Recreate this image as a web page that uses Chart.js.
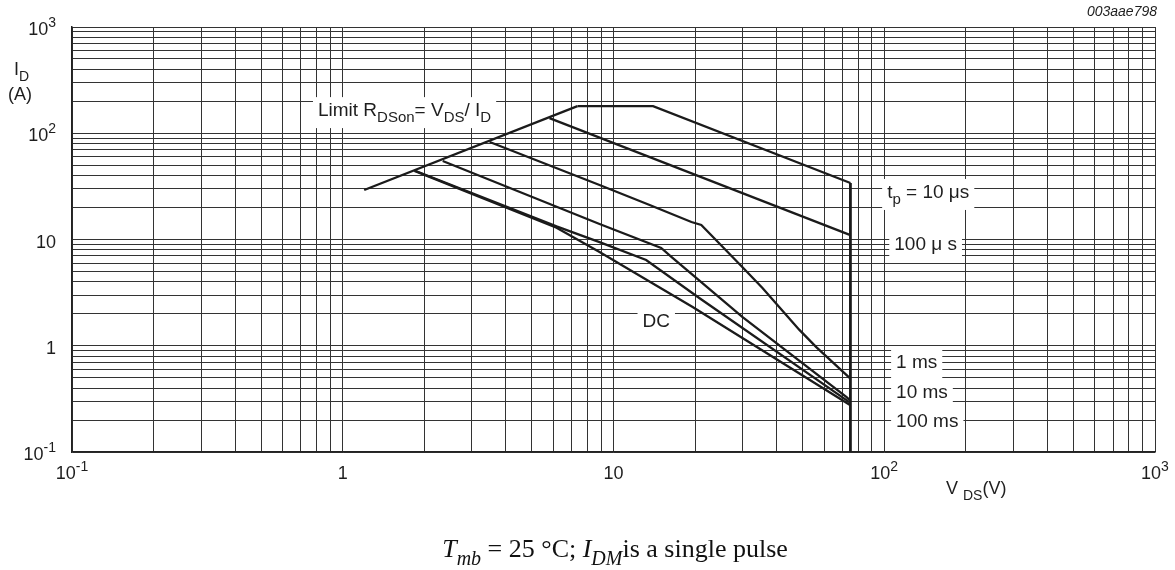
<!DOCTYPE html>
<html>
<head>
<meta charset="utf-8">
<script src="https://cdn.jsdelivr.net/npm/chart.js@4.4.1/dist/chart.umd.min.js"></script>
<style>
  html, body { margin: 0; padding: 0; background: #fff; }
  canvas { display: block; }
</style>
</head>
<body>
<canvas id="soaChart" width="1175" height="570"></canvas>
<script>
// safe operating area: V_DS (V) against I_D (A), log-log
const limitV = [1.2, 7.36];
const limitI = [29.2, 180];

const tp10usV = [7.36, 14.0, 75];
const tp10usI = [180, 180, 34];

const tp100usV = [5.8, 75];
const tp100usI = [139, 11.0];

const tp1msV = [3.49, 8.88, 13.6, 19.4, 21.1, 29.9, 35.5, 48.6, 56.1, 75];
const tp1msI = [82.7, 32.6, 21.1, 14.6, 13.7, 5.51, 3.50, 1.41, 0.97, 0.49];

const tp10msV = [2.34, 8.88, 15.0, 16.4, 29.9, 72.4, 75];
const tp10msI = [54.8, 14.0, 8.32, 6.84, 1.87, 0.33, 0.305];

const tp100msV = [1.84, 6.16, 8.88, 13.2, 20.8, 75];
const tp100msI = [44.6, 13.3, 9.46, 6.42, 2.80, 0.29];

const dcV = [1.84, 6.16, 8.88, 19.6, 75];
const dcI = [44.3, 12.9, 7.62, 2.32, 0.275];

// V_DS(max) edge
const vmaxV = [75, 75];
const vmaxI = [34, 0.1];

// decade ticks and their labels: [mantissa, exponent]
const decades = [0.1, 1, 10, 100, 1000];
const decadeLabels = [['10', '-1'], ['1', ''], ['10', ''], ['10', '2'], ['10', '3']];

// every 1..9 x 10^n line for the grid
const gridValues = [];
decades.slice(0, -1).forEach(d => {
  for (let k = 1; k <= 9; k++) gridValues.push(k * d);
});
gridValues.push(1000);

const SANS = '"Liberation Sans", Arial, sans-serif';
const SERIF = '"Liberation Serif", "Times New Roman", serif';

// curve annotations, anchored at left/baseline in data units
const notes = [
  { v: 0.81, i: 145, runs: [['Limit R'], ['DSon', 'sub'], ['= V'], ['DS', 'sub'], ['/ I'], ['D', 'sub']] },
  { v: 102.5, i: 24.6, runs: [['t'], ['p', 'sub'], [' = 10 \u03bcs']] },
  { v: 108.9, i: 7.96, runs: [['100 \u03bc s']] },
  { v: 12.8, i: 1.50, runs: [['DC']] },
  { v: 110.6, i: 0.618, runs: [['1 ms']] },
  { v: 110.6, i: 0.322, runs: [['10 ms']] },
  { v: 110.6, i: 0.172, runs: [['100 ms']] }
];

function pairs(xs, ys) {
  return xs.map((x, n) => ({ x: x, y: ys[n] }));
}

function runFont(kind, style, size, family) {
  const s = kind ? Math.round(size * 0.78) : size;
  return (style || '') + ' ' + s + 'px ' + family;
}

function runsWidth(ctx, runs, size, family) {
  let w = 0;
  runs.forEach(r => {
    ctx.font = runFont(r[1], r[2], size, family);
    w += ctx.measureText(r[0]).width;
  });
  return w;
}

// draws text pieces with sub/superscripts; x is the left edge unless align given
function drawRuns(ctx, x, y, runs, size, family, align) {
  const w = runsWidth(ctx, runs, size, family);
  if (align === 'center') x -= w / 2;
  if (align === 'right') x -= w;
  ctx.textBaseline = 'alphabetic';
  ctx.textAlign = 'left';
  runs.forEach(r => {
    ctx.font = runFont(r[1], r[2], size, family);
    let dy = 0;
    if (r[1] === 'sub') dy = size * 0.32;
    if (r[1] === 'sup') dy = -size * 0.45;
    ctx.fillText(r[0], x, y + dy);
    x += ctx.measureText(r[0]).width;
  });
  return w;
}

const soaText = {
  id: 'soaText',
  afterDraw(chart) {
    const ctx = chart.ctx;
    const xs = chart.scales.x;
    const ys = chart.scales.y;
    const area = chart.chartArea;
    ctx.save();
    ctx.fillStyle = '#1e1e1e';

    // tick labels
    decades.forEach((d, n) => {
      const lab = decadeLabels[n];
      const runs = [[lab[0]]];
      if (lab[1]) runs.push([lab[1], 'sup']);
      drawRuns(ctx, xs.getPixelForValue(d), area.bottom + 27, runs, 18, SANS, 'center');
      drawRuns(ctx, area.left - 16, ys.getPixelForValue(d) + 8, runs, 18, SANS, 'right');
    });

    // axis titles
    drawRuns(ctx, 14, 75, [['I'], ['D', 'sub']], 18, SANS);
    drawRuns(ctx, 8, 100, [['(A)']], 18, SANS);
    drawRuns(ctx, 946, 494, [['V '], ['DS', 'sub'], ['(V)']], 18, SANS);

    // figure code
    ctx.font = 'italic 14px ' + SANS;
    ctx.textAlign = 'right';
    ctx.textBaseline = 'alphabetic';
    ctx.fillText('003aae798', area.right + 2, 16);

    // curve labels on white boxes
    notes.forEach(nt => {
      const px = xs.getPixelForValue(nt.v);
      const py = ys.getPixelForValue(nt.i);
      const w = runsWidth(ctx, nt.runs, 19, SANS);
      ctx.fillStyle = '#fff';
      ctx.fillRect(px - 5, py - 19, w + 10, 31);
      ctx.fillStyle = '#1e1e1e';
      drawRuns(ctx, px, py, nt.runs, 19, SANS);
    });

    // caption
    ctx.fillStyle = '#111';
    drawRuns(ctx, 615, 557, [
      ['T', '', 'italic'], ['mb', 'sub', 'italic'], [' = 25 \u00b0C; '],
      ['I', '', 'italic'], ['DM', 'sub', 'italic'], ['is a single pulse']
    ], 26, SERIF, 'center');
    ctx.restore();
  }
};

const lineStyle = {
  showLine: true,
  pointRadius: 0,
  borderColor: '#1b1b1b',
  borderWidth: 2.3,
  tension: 0,
  fill: false
};

const config = {
  type: 'scatter',
  data: {
    datasets: [
      Object.assign({ label: 'Limit RDSon', data: pairs(limitV, limitI) }, lineStyle),
      Object.assign({ label: 'tp = 10 us', data: pairs(tp10usV, tp10usI) }, lineStyle),
      Object.assign({ label: '100 us', data: pairs(tp100usV, tp100usI) }, lineStyle),
      Object.assign({ label: '1 ms', data: pairs(tp1msV, tp1msI) }, lineStyle),
      Object.assign({ label: '10 ms', data: pairs(tp10msV, tp10msI) }, lineStyle),
      Object.assign({ label: '100 ms', data: pairs(tp100msV, tp100msI) }, lineStyle),
      Object.assign({ label: 'DC', data: pairs(dcV, dcI) }, lineStyle),
      Object.assign({ label: 'VDS max', data: pairs(vmaxV, vmaxI) }, lineStyle, { borderWidth: 2.8 })
    ]
  },
  options: {
    responsive: false,
    devicePixelRatio: 1,
    animation: false,
    layout: { padding: { left: 72, right: 20, top: 27, bottom: 118 } },
    plugins: {
      legend: { display: false },
      tooltip: { enabled: false }
    },
    scales: {
      x: {
        type: 'logarithmic',
        min: 0.1,
        max: 1000,
        afterBuildTicks: s => { s.ticks = gridValues.map(v => ({ value: v })); },
        ticks: { display: false },
        grid: { color: '#333', lineWidth: 1, drawTicks: false },
        border: { color: '#222', width: 1.5 }
      },
      y: {
        type: 'logarithmic',
        min: 0.1,
        max: 1000,
        afterBuildTicks: s => { s.ticks = gridValues.map(v => ({ value: v })); },
        ticks: { display: false },
        grid: { color: '#333', lineWidth: 1, drawTicks: false },
        border: { color: '#222', width: 1.5 }
      }
    }
  },
  plugins: [soaText]
};

const soaChart = new Chart(document.getElementById('soaChart'), config);
</script>
</body>
</html>
